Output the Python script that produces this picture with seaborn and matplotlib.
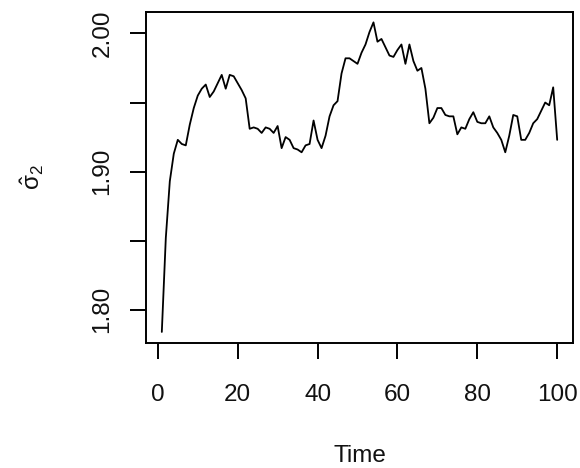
import numpy as np
import pandas as pd
import matplotlib
matplotlib.use("Agg")
import matplotlib.pyplot as plt
import seaborn as sns

time = list(range(1, 101))
sigma2_hat = [
    1.784, 1.852, 1.893, 1.913, 1.923, 1.920, 1.919, 1.934, 1.946, 1.955,
    1.960, 1.963, 1.954, 1.958, 1.964, 1.970, 1.960, 1.970, 1.969, 1.964,
    1.959, 1.953, 1.931, 1.932, 1.931, 1.928, 1.932, 1.931, 1.928, 1.933,
    1.917, 1.925, 1.923, 1.917, 1.916, 1.914, 1.919, 1.920, 1.937, 1.923,
    1.917, 1.926, 1.940, 1.948, 1.951, 1.971, 1.982, 1.982, 1.980, 1.978,
    1.986, 1.992, 2.001, 2.008, 1.994, 1.996, 1.990, 1.984, 1.983, 1.988,
    1.992, 1.978, 1.992, 1.980, 1.973, 1.975, 1.960, 1.935, 1.939, 1.946,
    1.946, 1.941, 1.940, 1.940, 1.927, 1.932, 1.931, 1.938, 1.943, 1.936,
    1.935, 1.935, 1.940, 1.932, 1.928, 1.923, 1.914, 1.926, 1.941, 1.940,
    1.923, 1.923, 1.928, 1.935, 1.938, 1.944, 1.950, 1.948, 1.961, 1.923,
]
x_ticks = [0, 20, 40, 60, 80, 100]
y_ticks = [1.80, 1.85, 1.90, 1.95, 2.00]
y_tick_labels = ["1.80", "", "1.90", "", "2.00"]

sns.set_style("white")
plt.rcParams["font.family"] = ["Liberation Sans", "DejaVu Sans"]
plt.rcParams["mathtext.fontset"] = "custom"
plt.rcParams["mathtext.rm"] = "Liberation Sans"
plt.rcParams["mathtext.it"] = "Liberation Sans"

df = pd.DataFrame({"Time": time, "sigma": sigma2_hat})

fig = plt.figure(figsize=(5.8, 4.68), dpi=100)
ax = fig.add_axes([146/580, 1-343/468, (573-146)/580, (343-12)/468])
sns.lineplot(data=df, x="Time", y="sigma", ax=ax, color="black", linewidth=1.3)

ax.set_xlim(-2.96, 103.96)
ax.set_ylim(1.776, 2.0155)
ax.set_xticks(x_ticks)
ax.set_xticklabels([str(v) for v in x_ticks])
ax.set_yticks(y_ticks)
ax.set_yticklabels(y_tick_labels, rotation=90, va="center")

for s in ax.spines.values():
    s.set_visible(True)
    s.set_color("black")
    s.set_linewidth(1.4)

ax.tick_params(axis="both", which="major", bottom=True, left=True,
               direction="out", length=11.5, width=1.4,
               color="black", labelsize=17.5, labelcolor="#111111")
ax.tick_params(axis="x", pad=18)
ax.tick_params(axis="y", pad=12)

ax.set_xlabel("Time", fontsize=17.5, labelpad=28, color="#111111")
ax.set_ylabel(r"$\hat{\sigma}_2$", fontsize=17.5, labelpad=33, color="#111111")
ax.grid(False)

fig.savefig("out.png", dpi=100, facecolor="white")
